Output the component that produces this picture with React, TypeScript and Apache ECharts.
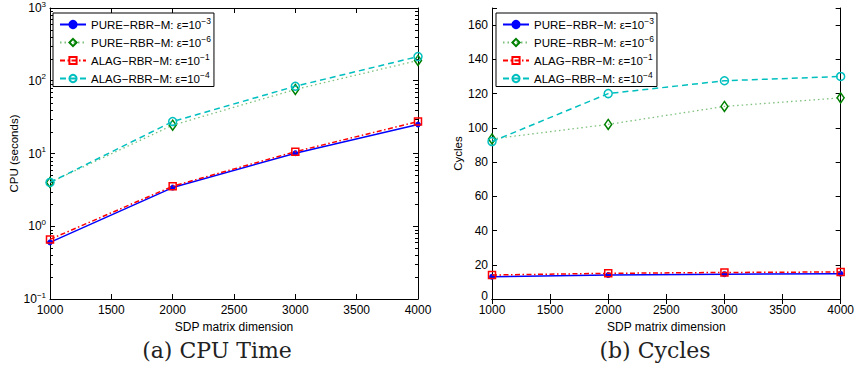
import React, { useEffect, useRef } from "react";
import * as echarts from "echarts";

// ---- data ----
const dims = [1000, 2000, 3000, 4000];
const methodNames = ["PURE−RBR−M", "PURE−RBR−M", "ALAG−RBR−M", "ALAG−RBR−M"];
const epsExponents = ["−3", "−6", "−1", "−4"];
const cpuPure3 = [0.6, 3.4, 10.1, 25];
const cpuPure6 = [4.0, 24.5, 76, 190];
const cpuAlag1 = [0.66, 3.55, 10.6, 27.5];
const cpuAlag4 = [4.0, 27.5, 84, 215];
const cyclesPure3 = [13, 14, 14.5, 14.8];
const cyclesPure6 = [93.5, 102, 112.5, 117.5];
const cyclesAlag1 = [14, 15, 15.5, 15.8];
const cyclesAlag4 = [92, 120, 127.5, 130];
const xTitle = "SDP matrix dimension";
const cpuTitle = "CPU (seconds)";
const cyclesTitle = "Cycles";
const captionA = "(a) CPU Time";
const captionB = "(b) Cycles";

const seriesNames = methodNames.map((m, i) => `${m}: ε=10^${epsExponents[i]}`);

const logMinor: number[][] = [];
for (let k = -1; k <= 2; k++) {
  for (let m = 2; m <= 9; m++) logMinor.push([1000, m * Math.pow(10, k)]);
}

const SANS = "Liberation Sans, Arial, Helvetica, sans-serif";

const styles = [
  {
    symbol: "circle",
    symbolSize: 5,
    itemStyle: { color: "#0000ff", borderColor: "#0000ff", borderWidth: 1 },
    lineStyle: { color: "#0000ff", width: 1.5, type: "solid" as any },
  },
  {
    symbol: "diamond",
    symbolSize: [7, 10],
    itemStyle: { color: "rgba(0,0,0,0)", borderColor: "#008000", borderWidth: 1.5 },
    lineStyle: { color: "#7cc07c", width: 1.3, type: [1.5, 3] as any },
  },
  {
    symbol: "rect",
    symbolSize: 7,
    itemStyle: { color: "rgba(0,0,0,0)", borderColor: "#ff0000", borderWidth: 1.5 },
    lineStyle: { color: "#ff0000", width: 1.5, type: [5, 2.5, 1.5, 2.5] as any },
  },
  {
    symbol: "circle",
    symbolSize: 8,
    itemStyle: { color: "rgba(0,0,0,0)", borderColor: "#00bfbf", borderWidth: 1.5 },
    lineStyle: { color: "#00bfbf", width: 1.5, type: [6, 4] as any },
  },
];

function mkSeries(values: number[][], xi: number, yi: number) {
  return values.map((vals, i) => ({
    type: "line",
    name: seriesNames[i],
    xAxisIndex: xi,
    yAxisIndex: yi,
    data: dims.map((d, j) => [d, vals[j]]),
    symbol: styles[i].symbol,
    symbolSize: styles[i].symbolSize,
    itemStyle: styles[i].itemStyle,
    lineStyle: styles[i].lineStyle,
    showAllSymbol: true,
    clip: false,
    z: 3 + i,
  }));
}

const legendRich = {
  t: { fontSize: 11.5, fontFamily: SANS, color: "#000" },
  s: { fontSize: 8.5, fontFamily: SANS, color: "#000", padding: [0, 0, 8, 0] },
};

function legendFormatter(name: string) {
  const [a, b] = name.split("^");
  return `{t|${a}}{s|${b}}`;
}

function mkLegend(left: number) {
  return {
    data: seriesNames,
    left,
    top: 13,
    orient: "vertical",
    backgroundColor: "#fff",
    borderColor: "#000",
    borderWidth: 1,
    padding: [3, 3, 2, 6],
    itemGap: 3.5,
    itemWidth: 26,
    itemHeight: 9,
    selectedMode: false,
    formatter: legendFormatter,
    textStyle: { fontSize: 11.5, fontFamily: SANS, color: "#000", rich: legendRich },
  };
}

const axisLine = { show: true, lineStyle: { color: "#000", width: 1 } };
const tick = { show: true, inside: true, length: 5, lineStyle: { color: "#000", width: 1 } };
const labelStyle = { color: "#000", fontSize: 12, fontFamily: SANS };

function xAxes(grid: number) {
  return [
    {
      type: "value",
      gridIndex: grid,
      min: 1000,
      max: 4000,
      interval: 500,
      position: "bottom",
      axisLine,
      axisTick: tick,
      splitLine: { show: false },
      axisLabel: { ...labelStyle, margin: 5, formatter: (v: number) => String(v) },
      name: xTitle,
      nameLocation: "middle",
      nameGap: 17,
      nameTextStyle: { ...labelStyle },
    },
    {
      type: "value",
      gridIndex: grid,
      min: 1000,
      max: 4000,
      interval: 500,
      position: "top",
      axisLine,
      axisTick: tick,
      splitLine: { show: false },
      axisLabel: { show: false },
    },
  ];
}

export default function App() {
  const ref = useRef<HTMLDivElement>(null);
  useEffect(() => {
    if (!ref.current) return;
    const chart = echarts.init(ref.current, null, { renderer: "svg" });
    const logLabel = (v: number) => {
      const e = Math.round(Math.log10(v));
      const s = e < 0 ? "−" + -e : String(e);
      return `{b|10}{e|${s}}`;
    };
    const logRich = {
      b: { fontSize: 12, fontFamily: SANS, color: "#000" },
      e: { fontSize: 8, fontFamily: SANS, color: "#000", padding: [0, 0, 8, 0] },
    };
    const option: any = {
      animation: false,
      backgroundColor: "#fff",
      grid: [
        { left: 50, right: 439, top: 8, bottom: 72 },
        { left: 492, right: 9, top: 8, bottom: 72 },
      ],
      xAxis: [...xAxes(0), ...xAxes(1)],
      yAxis: [
        {
          type: "log",
          logBase: 10,
          gridIndex: 0,
          min: 0.1,
          max: 1000,
          position: "left",
          axisLine,
          axisTick: tick,
          splitLine: { show: false },
          axisLabel: { formatter: logLabel, rich: logRich, margin: 4 },
          name: cpuTitle,
          nameLocation: "middle",
          nameRotate: 90,
          nameGap: 28,
          nameTextStyle: { ...labelStyle, fontSize: 11.5 },
        },
        {
          type: "log",
          logBase: 10,
          gridIndex: 0,
          min: 0.1,
          max: 1000,
          position: "right",
          axisLine,
          axisTick: tick,
          splitLine: { show: false },
          axisLabel: { show: false },
        },
        {
          type: "value",
          gridIndex: 1,
          min: 0,
          max: 170,
          interval: 20,
          position: "left",
          axisLine,
          axisTick: tick,
          splitLine: { show: false },
          axisLabel: {
            ...labelStyle,
            margin: 4,
            formatter: (v: number) => (v > 160 ? "" : v === 0 ? "{z|0}" : String(v)),
            rich: { z: { fontSize: 12, fontFamily: SANS, color: "#000", padding: [0, 0, 7, 0] } },
          },
          name: cyclesTitle,
          nameLocation: "middle",
          nameRotate: 90,
          nameGap: 25,
          nameTextStyle: { ...labelStyle, fontSize: 11.5 },
        },
        {
          type: "value",
          gridIndex: 1,
          min: 0,
          max: 170,
          interval: 20,
          position: "right",
          axisLine,
          axisTick: tick,
          splitLine: { show: false },
          axisLabel: { show: false },
        },
      ],
      legend: [mkLegend(53), mkLegend(496)],
      series: [
        ...mkSeries([cpuPure3, cpuPure6, cpuAlag1, cpuAlag4], 0, 0),
        ...mkSeries([cyclesPure3, cyclesPure6, cyclesAlag1, cyclesAlag4], 2, 2),
        {
          type: "custom",
          name: "minorTicks",
          xAxisIndex: 0,
          yAxisIndex: 0,
          silent: true,
          clip: false,
          data: logMinor,
          renderItem: (params: any, api: any) => {
            const v = api.value(1);
            const p0 = api.coord([1000, v]);
            const p1 = api.coord([4000, v]);
            const y = Math.round(p0[1]) + 0.5;
            return {
              type: "group",
              children: [
                { type: "line", shape: { x1: p0[0], y1: y, x2: p0[0] + 3, y2: y }, style: { stroke: "#000", lineWidth: 1 } },
                { type: "line", shape: { x1: p1[0] - 3, y1: y, x2: p1[0], y2: y }, style: { stroke: "#000", lineWidth: 1 } },
              ],
            };
          },
        },
      ],
      graphic: [
        {
          type: "text",
          x: 217,
          y: 350,
          style: {
            text: captionA,
            font: "22px 'DejaVu Serif', serif",
            fill: "#222",
            textAlign: "center",
            textVerticalAlign: "middle",
          },
        },
        {
          type: "text",
          x: 655,
          y: 350,
          style: {
            text: captionB,
            font: "22px 'DejaVu Serif', serif",
            fill: "#222",
            textAlign: "center",
            textVerticalAlign: "middle",
          },
        },
      ],
    };
    chart.setOption(option);
    return () => chart.dispose();
  }, []);
  return (
    <div
      ref={ref}
      style={{ position: "fixed", left: 0, top: 0, width: 857, height: 371, background: "#fff" }}
    />
  );
}
